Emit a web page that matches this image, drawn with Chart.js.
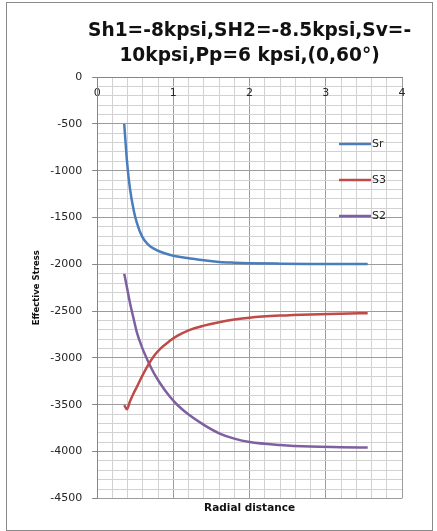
<!DOCTYPE html>
<html>
<head>
<meta charset="utf-8">
<title>Effective stress vs radial distance</title>
<script src="https://cdn.jsdelivr.net/npm/chart.js@4.4.1/dist/chart.umd.min.js"></script>
<style>
  html, body { margin: 0; padding: 0; background: #ffffff; }
  #wrap { position: relative; width: 437px; height: 531px; }
</style>
</head>
<body>
<div id="wrap"><canvas id="chart" width="437" height="531"></canvas></div>
<script>
// Radial distance samples shared by all three stress curves
const radius = [0.355, 0.39, 0.43, 0.48, 0.52, 0.59, 0.67, 0.75, 0.83, 0.95, 1.05, 1.2, 1.4, 1.6, 1.8, 2.0, 2.4, 2.8, 3.2, 3.55];

// Effective stresses
const sr = [-500, -884, -1190, -1425, -1555, -1705, -1790, -1835, -1866, -1898, -1917, -1935, -1958, -1975, -1983, -1988, -1993, -1996, -1997, -1998];
const s3 = [-3503, -3549, -3465, -3375, -3310, -3195, -3075, -2975, -2900, -2820, -2765, -2705, -2655, -2618, -2590, -2570, -2548, -2535, -2527, -2522];
const s2 = [-2100, -2243, -2410, -2587, -2725, -2890, -3040, -3170, -3275, -3410, -3500, -3605, -3715, -3805, -3862, -3898, -3930, -3947, -3953, -3957];

const seriesNames = ['Sr', 'S3', 'S2'];
const seriesColors = ['#4a7dbb', '#be4b48', '#7e60a1'];

const titleLines = ['Sh1=-8kpsi,SH2=-8.5kpsi,Sv=-', '10kpsi,Pp=6 kpsi,(0,60\u00b0)'];
const xTitle = 'Radial distance';
const yTitle = 'Effective Stress';

const FONT = '"DejaVu Sans", Lato, sans-serif';
const MINOR = '#d2d2d2';
const MAJOR = '#9c9c9c';

function toPoints(ys) {
  return radius.map((r, i) => ({ x: r, y: ys[i] }));
}

const isWhole = (v, step) => Math.abs(v / step - Math.round(v / step)) < 1e-6;

// Thin frame around the whole figure
const framePlugin = {
  id: 'frame',
  beforeDraw(chart) {
    const ctx = chart.ctx;
    ctx.save();
    ctx.fillStyle = '#ffffff';
    ctx.fillRect(0, 0, chart.width, chart.height);
    ctx.strokeStyle = '#8a8a8a';
    ctx.lineWidth = 1;
    ctx.strokeRect(6.5, 2.5, chart.width - 11, chart.height - 3);
    ctx.restore();
  }
};

// Keep the title centred over the plot but let it run wider than the plot
const titleSpanPlugin = {
  id: 'titleSpan',
  afterLayout(chart) {
    const t = chart.titleBlock;
    if (!t) return;
    const extra = 40;
    t.left = chart.chartArea.left - extra;
    t.right = chart.chartArea.right + extra;
    t.width = t.right - t.left;
  }
};

// Series key drawn over the upper right of the plot
const keyPlugin = {
  id: 'seriesKey',
  afterDatasetsDraw(chart) {
    const { ctx, chartArea } = chart;
    const x0 = chartArea.right - 63;
    const y0 = chartArea.top + 67;
    ctx.save();
    ctx.font = '11px ' + FONT;
    ctx.textBaseline = 'middle';
    ctx.textAlign = 'left';
    chart.data.datasets.forEach((ds, i) => {
      const y = y0 + i * 36;
      ctx.strokeStyle = ds.borderColor;
      ctx.lineWidth = 2.5;
      ctx.beginPath();
      ctx.moveTo(x0, y);
      ctx.lineTo(x0 + 32, y);
      ctx.stroke();
      ctx.fillStyle = '#262626';
      ctx.fillText(ds.label, x0 + 33, y + 0.5);
    });
    ctx.restore();
  }
};

new Chart(document.getElementById('chart'), {
  type: 'line',
  data: {
    datasets: [
      { label: seriesNames[0], data: toPoints(sr), borderColor: seriesColors[0] },
      { label: seriesNames[1], data: toPoints(s3), borderColor: seriesColors[1] },
      { label: seriesNames[2], data: toPoints(s2), borderColor: seriesColors[2] }
    ]
  },
  options: {
    responsive: false,
    animation: false,
    parsing: false,
    layout: { padding: { left: 28, right: 35, top: 17, bottom: 16 } },
    elements: {
      point: { radius: 0 },
      line: { borderWidth: 2.5, cubicInterpolationMode: 'monotone', fill: false }
    },
    plugins: {
      legend: { display: false },
      tooltip: { enabled: false },
      title: {
        display: true,
        fullSize: false,
        text: titleLines,
        color: '#111111',
        font: { family: FONT, size: 18.6, weight: 'bold', lineHeight: '25px' },
        padding: { top: 2, bottom: -12 }
      }
    },
    scales: {
      x: {
        type: 'linear',
        position: 'top',
        min: 0,
        max: 4,
        border: { display: true, color: '#868686', width: 1 },
        grid: {
          drawTicks: false,
          lineWidth: 1,
          color: (c) => isWhole(c.tick.value, 1) ? MAJOR : MINOR
        },
        ticks: {
          stepSize: 0.2,
          autoSkip: false,
          mirror: true,
          padding: 10,
          maxRotation: 0,
          color: '#262626',
          font: { family: FONT, size: 11 },
          callback: (v) => isWhole(v, 1) ? String(Math.round(v)) : ''
        }
      },
      xTitleAxis: {
        type: 'linear',
        position: 'bottom',
        min: 0,
        max: 4,
        border: { display: false },
        grid: { display: false, drawTicks: false },
        ticks: { display: false },
        title: {
          display: true,
          text: xTitle,
          color: '#111111',
          font: { family: FONT, size: 10.5, weight: 'bold' },
          padding: { top: 4, bottom: 0 }
        }
      },
      y: {
        type: 'linear',
        position: 'left',
        min: -4500,
        max: 0,
        border: { display: true, color: '#868686', width: 1 },
        grid: {
          lineWidth: 1,
          tickLength: 5,
          color: (c) => isWhole(c.tick.value, 500) ? MAJOR : MINOR,
          tickColor: (c) => isWhole(c.tick.value, 500) ? '#868686' : 'rgba(0,0,0,0)'
        },
        ticks: {
          stepSize: 100,
          autoSkip: false,
          padding: 10,
          color: '#262626',
          font: { family: FONT, size: 11 },
          callback: (v) => isWhole(v, 500) ? String(v) : ''
        },
        title: {
          display: true,
          text: yTitle,
          color: '#111111',
          font: { family: FONT, size: 8.5, weight: 'bold' },
          padding: { top: 4, bottom: -2 }
        }
      }
    }
  },
  plugins: [framePlugin, titleSpanPlugin, keyPlugin]
});
</script>
</body>
</html>
